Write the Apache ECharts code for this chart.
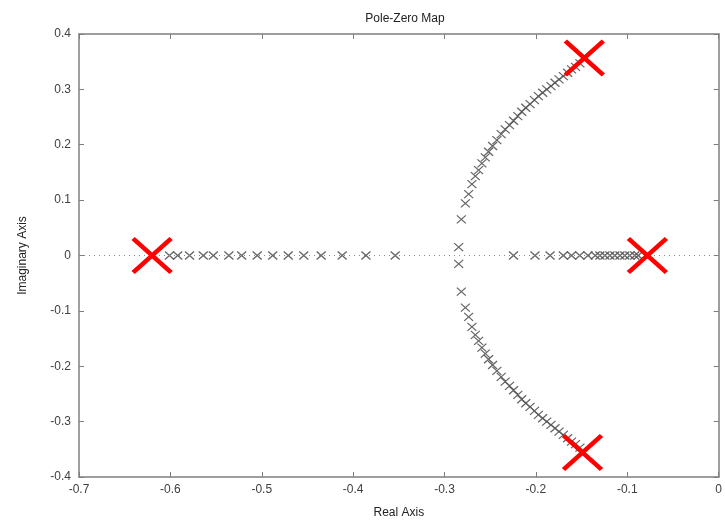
<!DOCTYPE html>
<html>
<head>
<meta charset="utf-8">
<script src="https://cdn.jsdelivr.net/npm/echarts@6/dist/echarts.min.js"></script>
<style>
  html, body { margin: 0; padding: 0; background: #fff; }
  #chart { width: 725px; height: 529px; }
</style>
</head>
<body>
<div id="chart"></div>
<script>
// Root locus poles on the real axis (imaginary part 0)
const realLocusRe = [
  -0.601, -0.592, -0.579, -0.564, -0.553, -0.536, -0.522, -0.505, -0.488,
  -0.471, -0.454, -0.435, -0.412, -0.386, -0.354,
  -0.2245, -0.201, -0.1845, -0.170, -0.161, -0.152, -0.143, -0.135, -0.130,
  -0.1245, -0.119, -0.1136, -0.108, -0.1027, -0.0973, -0.0918, -0.088
];

// Pair just off the axis at the breakaway point
const breakRe = [-0.2845, -0.2845];
const breakIm = [0.015, -0.015];

// Upper complex branch
const upperRe = [
  -0.2816, -0.2772, -0.2736, -0.2700, -0.2663, -0.2627, -0.2591, -0.2554,
  -0.2518, -0.2474, -0.2427, -0.2380, -0.2336, -0.2289, -0.2245, -0.2198,
  -0.2155, -0.2111, -0.2064, -0.2016, -0.1973, -0.1926, -0.1882, -0.1835,
  -0.1791, -0.1747, -0.1700, -0.1653, -0.1610, -0.1566, -0.1518
];
const upperIm = [
  0.0653, 0.0942, 0.1110, 0.1290, 0.1435, 0.1543, 0.1664, 0.1773,
  0.1874, 0.1977, 0.2085, 0.2193, 0.2278, 0.2356, 0.2433, 0.2518,
  0.2596, 0.2668, 0.2735, 0.2807, 0.2879, 0.2939, 0.3000, 0.3060,
  0.3120, 0.3180, 0.3240, 0.3300, 0.3360, 0.3408, 0.3469
];

// Lower complex branch
const lowerRe = [
  -0.2816, -0.2772, -0.2736, -0.2700, -0.2663, -0.2627, -0.2591, -0.2554,
  -0.2518, -0.2474, -0.2427, -0.2380, -0.2336, -0.2289, -0.2245, -0.2198,
  -0.2155, -0.2111, -0.2064, -0.2016, -0.1973, -0.1926, -0.1882, -0.1835,
  -0.1791, -0.1747, -0.1700, -0.1653, -0.1610, -0.1566, -0.1518
];
const lowerIm = [
  -0.0653, -0.0942, -0.1110, -0.1290, -0.1435, -0.1543, -0.1664, -0.1773,
  -0.1874, -0.1977, -0.2085, -0.2193, -0.2278, -0.2356, -0.2433, -0.2518,
  -0.2596, -0.2668, -0.2735, -0.2807, -0.2879, -0.2939, -0.3000, -0.3060,
  -0.3120, -0.3180, -0.3240, -0.3300, -0.3360, -0.3408, -0.3469
];

// Open-loop poles
const openRe = [-0.620, -0.078, -0.147, -0.149];
const openIm = [0, 0, 0.3565, -0.3556];

const crossPath = 'path://M0,0L10,10M10,0L0,10';
const font = 'Liberation Sans, Arial, sans-serif';
const frameColor = '#7f7f7f';
const labelColor = '#404040';

function zipPts(xs, ys) { return xs.map((x, i) => [x, ys[i]]); }

const points = []
  .concat(realLocusRe.map(x => [x, 0]))
  .concat(zipPts(breakRe, breakIm))
  .concat(zipPts(upperRe, upperIm))
  .concat(zipPts(lowerRe, lowerIm));

const fmt = v => {
  const r = Math.round(v * 10) / 10;
  return r === 0 ? '0' : String(r);
};

const chart = echarts.init(document.getElementById('chart'), null, { renderer: 'canvas' });

const axisCommon = {
  type: 'value',
  interval: 0.1,
  axisLine: { show: true, onZero: false, lineStyle: { color: frameColor, width: 1.5 } },
  axisTick: { show: true, inside: true, length: 5, lineStyle: { color: frameColor, width: 1 } },
  splitLine: { show: false }
};

chart.setOption({
  animation: false,
  backgroundColor: '#ffffff',
  title: {
    text: 'Pole-Zero Map',
    left: 400, top: 8, textAlign: 'center',
    textStyle: { fontFamily: font, fontSize: 12, fontWeight: 'normal', color: '#222' }
  },
  grid: { left: 79, right: 4, top: 34, bottom: 52 },
  xAxis: [
    Object.assign({}, axisCommon, {
      min: -0.7, max: 0, position: 'bottom',
      name: 'Real Axis', nameLocation: 'middle', nameGap: 30,
      nameTextStyle: { fontFamily: font, fontSize: 12, color: '#222' },
      axisLabel: { fontFamily: font, fontSize: 12, color: labelColor, margin: 7, formatter: fmt }
    }),
    Object.assign({}, axisCommon, {
      min: -0.7, max: 0, position: 'top',
      axisLabel: { show: false }
    })
  ],
  yAxis: [
    Object.assign({}, axisCommon, {
      min: -0.4, max: 0.4, position: 'left',
      name: 'Imaginary Axis', nameLocation: 'middle', nameGap: 50, nameRotate: 90,
      nameTextStyle: { fontFamily: font, fontSize: 12, color: '#222' },
      axisLabel: { fontFamily: font, fontSize: 12, color: labelColor, margin: 8, formatter: fmt }
    }),
    Object.assign({}, axisCommon, {
      min: -0.4, max: 0.4, position: 'right',
      axisLabel: { show: false }
    })
  ],
  series: [
    {
      type: 'scatter',
      data: points,
      symbol: crossPath,
      symbolSize: [9, 8],
      itemStyle: { color: 'transparent', borderColor: '#555', borderWidth: 1.2, opacity: 0.9 },
      markLine: {
        silent: true,
        symbol: 'none',
        label: { show: false },
        lineStyle: { color: '#888', type: [1, 4], width: 1 },
        data: [{ yAxis: 0 }]
      },
      z: 3
    },
    {
      type: 'scatter',
      data: zipPts(openRe, openIm),
      symbol: crossPath,
      symbolSize: [38, 34],
      itemStyle: { color: 'transparent', borderColor: '#ff0000', borderWidth: 4.5, opacity: 1 },
      z: 5
    }
  ]
});
</script>
</body>
</html>
